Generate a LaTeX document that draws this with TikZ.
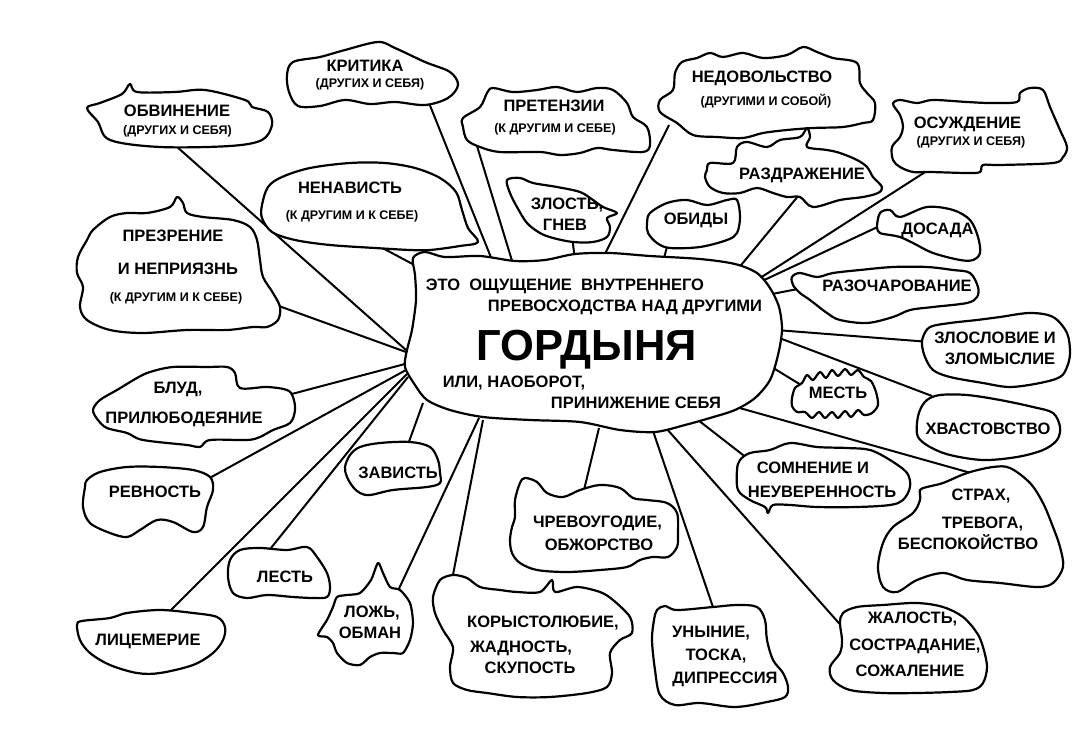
\documentclass[tikz,border=0pt]{standalone}
\usepackage{fontspec}
\setmainfont{Liberation Sans}
\begin{document}
\begin{tikzpicture}[x=1pt,y=-1pt]
\tikzset{
 blob/.style={draw=black, line width=2.2pt, fill=white, line join=round},
 conn/.style={draw=black, line width=2pt},
 lab/.style={font=\fontsize{16.5}{18}\selectfont\bfseries, anchor=base, inner sep=0pt},
 sub/.style={font=\fontsize{12.5}{14}\selectfont\bfseries, anchor=base, inner sep=0pt},
 big/.style={font=\fontsize{43.5}{48}\selectfont\bfseries, anchor=base, inner sep=0pt},
 sm/.style={smooth cycle, tension=0.55}
}
\useasboundingbox[fill=white] (0,0) rectangle (1080,754);

% ---------- connector end points ----------
\coordinate (c-obv) at (406,350);   \coordinate (e-obv) at (176,146);
\coordinate (c-prez) at (406,352);  \coordinate (e-prez) at (265,301);
\coordinate (c-nen) at (420,268);   \coordinate (e-nen) at (375,244);
\coordinate (c-krit) at (492,260);  \coordinate (e-krit) at (427,98);
\coordinate (c-pret) at (513,264);  \coordinate (e-pret) at (477,146);
\coordinate (c-zl) at (575,260);    \coordinate (e-zl) at (572,236);
\coordinate (c-ned) at (603,258);   \coordinate (e-ned) at (669,125);
\coordinate (c-obid) at (663,262);  \coordinate (e-obid) at (668,243);
\coordinate (c-razd) at (737,270);  \coordinate (e-razd) at (799,195);
\coordinate (c-osu) at (757,280);   \coordinate (e-osu) at (933,167);
\coordinate (c-dos) at (760,282);   \coordinate (e-dos) at (884,224);
\coordinate (c-raz) at (772,294);   \coordinate (e-raz) at (803,288);
\coordinate (c-zls) at (776,330);   \coordinate (e-zls) at (930,342);
\coordinate (c-hv) at (774,336);    \coordinate (e-hv) at (932,396);
\coordinate (c-mest) at (770,366);  \coordinate (e-mest) at (806,388);
\coordinate (c-str) at (736,407);   \coordinate (e-str) at (978,475);
\coordinate (c-som) at (698,420);   \coordinate (e-som) at (752,462);
\coordinate (c-zh) at (666,428);    \coordinate (e-zh) at (845,630);
\coordinate (c-un) at (652,428);    \coordinate (e-un) at (715,613);
\coordinate (c-chr) at (599,428);   \coordinate (e-chr) at (584,490);
\coordinate (c-kor) at (483,420);   \coordinate (e-kor) at (452,580);
\coordinate (c-lozh) at (479,418);  \coordinate (e-lozh) at (396,595);
\coordinate (c-zav) at (423,403);   \coordinate (e-zav) at (406,450);
\coordinate (c-lest) at (408,377);  \coordinate (e-lest) at (267,553);
\coordinate (c-lic) at (407,374);   \coordinate (e-lic) at (165,616);
\coordinate (c-rev) at (406,370);   \coordinate (e-rev) at (206,480);
\coordinate (c-blud) at (405,364);  \coordinate (e-blud) at (288,395);

% ---------- connectors ----------
\foreach \n in {obv,prez,nen,krit,pret,zl,ned,obid,razd,osu,dos,raz,zls,hv,mest,str,som,zh,un,chr,kor,lozh,zav,lest,lic,rev,blud}
  \draw[conn] (c-\n) -- (e-\n);

% ---------- blobs ----------
% ОБВИНЕНИЕ
\draw[blob] plot[sm] coordinates {(87,108) (100,103) (122,94) (130,84) (137,92) (175,92) (205,90) (245,100) (252,107) (268,112) (272,125) (262,140) (230,146) (160,147) (110,140) (98,122)};
% КРИТИКА
\draw[blob] plot[sm] coordinates {(287,75) (293,62) (320,57) (345,50) (378,42) (395,48) (425,62) (450,72) (458,85) (448,98) (425,105) (395,102) (370,104) (345,100) (320,106) (298,106) (289,92)};
% ПРЕТЕНЗИИ
\draw[blob] plot[sm] coordinates {(463,118) (480,107) (487,93) (493,88) (513,92) (537,90) (557,87) (577,92) (597,88) (613,90) (627,103) (633,117) (647,127) (650,145) (643,152) (613,150) (597,148) (580,153) (560,155) (540,152) (500,152) (480,147) (467,140) (463,127)};
% НЕДОВОЛЬСТВО
\draw[blob] plot[sm] coordinates {(675,73) (682,62) (697,58) (710,53) (723,57) (743,53) (763,58) (787,55) (803,47) (817,52) (833,58) (857,63) (860,83) (867,93) (875,103) (873,120) (863,123) (843,127) (813,128) (787,130) (763,133) (743,138) (717,137) (693,135) (677,123) (660,112) (660,100) (673,90)};
% РАЗДРАЖЕНИЕ
\draw[blob] plot[sm] coordinates {(707,170) (710,163) (733,163) (737,147) (747,142) (767,147) (780,140) (800,137) (807,128) (810,137) (807,147) (827,150) (840,153) (857,160) (867,167) (873,177) (882,187) (878,193) (863,197) (840,200) (813,207) (800,197) (787,197) (773,193) (757,188) (740,193) (723,193) (710,187) (705,177)};
% ОСУЖДЕНИЕ
\draw[blob] plot[sm] coordinates {(893,104) (900,100) (917,103) (933,100) (967,102) (990,103) (1017,102) (1020,93) (1030,88) (1043,90) (1050,107) (1060,130) (1067,147) (1063,157) (1053,163) (1000,165) (983,165) (980,172) (967,173) (930,172) (913,172) (900,167) (893,160) (892,147) (900,137) (903,127) (900,115)};
% НЕНАВИСТЬ
\draw[blob] plot[sm] coordinates {(262,205) (268,187) (282,177) (310,168) (350,163) (385,163) (415,168) (440,178) (456,192) (462,210) (468,228) (478,242) (460,246) (430,250) (410,250) (375,248) (330,245) (295,240) (272,232) (262,218)};
% ЗЛОСТЬ, ГНЕВ
\draw[blob] plot[sm] coordinates {(507,180) (520,178) (533,183) (557,187) (580,192) (593,200) (603,207) (617,213) (607,218) (610,227) (607,237) (593,242) (573,242) (553,238) (540,233) (527,223) (517,207) (510,193)};
% ОБИДЫ
\draw[blob] plot[sm] coordinates {(647,223) (650,213) (667,203) (687,200) (707,205) (727,200) (737,200) (740,217) (737,233) (727,240) (700,247) (670,248) (657,243) (648,233)};
% ДОСАДА
\draw[blob] plot[sm] coordinates {(877,227) (880,213) (890,210) (900,217) (927,207) (953,210) (970,220) (978,237) (980,253) (973,260) (960,260) (933,253) (913,243) (900,237) (890,235) (880,233)};
% РАЗОЧАРОВАНИЕ
\draw[blob] plot[sm] coordinates {(792,277) (800,273) (817,277) (833,273) (860,270) (893,267) (927,267) (953,270) (970,273) (978,287) (977,297) (967,303) (933,307) (910,310) (893,317) (867,323) (840,320) (827,313) (810,300) (800,293) (793,285)};
% ЗЛОСЛОВИЕ
\draw[blob] plot[sm] coordinates {(923,337) (930,327) (950,323) (977,320) (1000,317) (1030,313) (1053,317) (1067,333) (1070,353) (1067,367) (1060,377) (1040,383) (1010,387) (983,383) (950,377) (933,370) (925,357) (922,345)};
% ПРЕЗРЕНИЕ
\draw[blob] plot[sm] coordinates {(87,240) (93,230) (110,217) (127,213) (147,213) (170,207) (177,197) (183,203) (187,213) (203,217) (233,220) (250,227) (257,240) (260,260) (263,277) (273,293) (280,307) (278,320) (267,327) (253,327) (227,330) (187,330) (143,333) (110,330) (87,320) (80,307) (83,287) (77,273) (78,257)};
% БЛУД
\draw[blob] plot[sm] coordinates {(93,410) (100,400) (117,390) (137,378) (150,372) (173,367) (207,367) (227,367) (235,373) (240,388) (267,387) (287,390) (293,397) (295,410) (290,423) (273,430) (260,437) (247,440) (210,440) (200,447) (187,445) (143,440) (127,433) (107,428) (98,420)};
% РЕВНОСТЬ
\draw[blob] plot[sm] coordinates {(85,487) (87,480) (100,472) (127,467) (160,467) (193,470) (210,477) (213,490) (207,507) (203,527) (193,532) (173,522) (157,520) (140,530) (127,537) (110,533) (90,523) (83,507)};
% ЗАВИСТЬ
\draw[blob] plot[sm] coordinates {(345,467) (350,455) (360,447) (380,443) (410,442) (430,447) (438,460) (440,473) (440,483) (427,487) (393,490) (370,495) (360,493) (353,487) (347,477)};
% ЛЕСТЬ
\draw[blob] plot[sm] coordinates {(230,560) (240,550) (260,548) (287,550) (307,547) (317,557) (327,573) (330,587) (327,597) (313,598) (293,597) (267,595) (247,598) (233,593) (228,577)};
% ЛОЖЬ, ОБМАН
\draw[blob] plot[smooth cycle, tension=0.45] coordinates {(378,563) (371,580) (360,593) (347,595) (337,597) (333,607) (327,620) (318,635) (327,637) (333,643) (337,653) (347,663) (360,665) (370,657) (380,653) (393,653) (403,653) (410,640) (413,623) (410,603) (400,590) (390,587) (383,573)};
% ЛИЦЕМЕРИЕ
\draw[blob] plot[sm] coordinates {(77,625) (82,621) (110,618) (127,613) (160,610) (193,613) (217,617) (225,627) (223,640) (213,653) (193,665) (160,673) (137,673) (110,665) (90,653) (80,640)};
% ЧРЕВОУГОДИЕ
\draw[blob] plot[sm] coordinates {(520,483) (525,478) (537,482) (547,493) (563,497) (580,490) (600,485) (620,488) (633,498) (647,500) (667,503) (677,513) (678,533) (677,547) (668,557) (653,557) (640,560) (627,567) (600,570) (567,572) (537,570) (520,563) (512,553) (510,540) (512,527) (515,517) (515,500)};
% КОРЫСТОЛЮБИЕ
\draw[blob] plot[smooth cycle, tension=0.5] coordinates {(440,580) (453,575) (467,578) (480,587) (500,590) (517,592) (540,592) (552,580) (555,592) (577,587) (600,592) (613,600) (630,617) (632,633) (620,640) (610,653) (612,673) (607,687) (587,693) (550,697) (517,697) (487,693) (467,690) (453,683) (450,667) (453,647) (443,630) (435,613) (433,597)};
% УНЫНИЕ
\draw[blob] plot[sm] coordinates {(657,610) (665,606) (677,610) (713,607) (737,605) (757,607) (765,620) (767,640) (773,660) (783,673) (788,687) (785,697) (767,702) (735,707) (700,703) (675,705) (660,695) (655,670) (652,640) (654,620)};
% ЖАЛОСТЬ
\draw[blob] plot[sm] coordinates {(840,623) (843,613) (857,607) (883,605) (917,603) (943,607) (963,617) (977,633) (983,647) (987,667) (983,683) (973,690) (950,692) (917,693) (883,693) (850,690) (833,680) (830,667) (840,653) (842,640)};
% СОМНЕНИЕ
\draw[blob] plot[sm] coordinates {(737,470) (740,460) (750,453) (770,450) (790,443) (817,447) (847,448) (870,450) (890,460) (907,473) (910,487) (903,500) (890,505) (857,507) (817,507) (790,505) (773,505) (768,513) (765,507) (750,500) (738,490)};
% МЕСТЬ
\draw[blob] plot[smooth cycle, tension=0.5] coordinates {(792,398) (795,388) (802,383) (807,375) (813,380) (820,372) (826,378) (832,370) (838,376) (845,369) (851,375) (858,370) (864,377) (871,381) (876,392) (878,405) (872,413) (864,415) (858,410) (851,417) (845,411) (838,418) (832,412) (825,418) (819,412) (812,418) (805,412) (797,412) (792,406)};
% ХВАСТОВСТВО
\draw[blob] plot[sm] coordinates {(917,423) (920,410) (927,400) (940,395) (967,395) (1000,400) (1033,407) (1053,413) (1060,427) (1057,440) (1043,450) (1017,457) (983,460) (950,455) (930,447) (918,437)};
% СТРАХ
\draw[blob] plot[sm] coordinates {(920,490) (927,487) (943,483) (967,473) (993,467) (1010,468) (1030,483) (1043,503) (1053,527) (1060,547) (1063,567) (1053,583) (1037,587) (1000,583) (967,580) (943,573) (917,580) (897,592) (883,587) (878,567) (883,543) (893,527) (913,513) (920,500)};
% ГОРДЫНЯ (centre)
\draw[blob] plot[smooth cycle, tension=0.5] coordinates {(413,258) (425,252) (445,257) (480,256) (515,261) (545,260) (575,254) (610,253) (650,256) (700,259) (735,264) (757,273) (770,288) (779,307) (782,330) (778,355) (770,380) (755,398) (735,410) (710,418) (685,425) (655,432) (620,430) (580,422) (530,420) (483,417) (450,410) (427,400) (415,385) (405,367) (407,350) (412,330) (416,300) (415,275)};

% ---------- texts ----------
\node[lab] (t-obv) at (177,117) {ОБВИНЕНИЕ};
\node[sub] (s-obv) at (177.5,135) {(ДРУГИХ И СЕБЯ)};
\node[lab] (t-krit) at (365,72) {КРИТИКА};
\node[sub] (s-krit) at (370,88) {(ДРУГИХ И СЕБЯ)};
\node[lab] (t-pret) at (554,112) {ПРЕТЕНЗИИ};
\node[sub] (s-pret) at (555,133) {(К ДРУГИМ И СЕБЕ)};
\node[lab] (t-ned) at (762,83) {НЕДОВОЛЬСТВО};
\node[sub] (s-ned) at (766,105.5) {(ДРУГИМИ И СОБОЙ)};
\node[lab] (t-osu) at (967.5,129) {ОСУЖДЕНИЕ};
\node[sub] (s-osu) at (971,146) {(ДРУГИХ И СЕБЯ)};
\node[lab] (t-nen) at (350,194) {НЕНАВИСТЬ};
\node[sub] (s-nen) at (352,220) {(К ДРУГИМ И К СЕБЕ)};
\node[lab] (t-zl1) at (567,210) {ЗЛОСТЬ,};
\node[lab] (t-zl2) at (565,231) {ГНЕВ};
\node[lab] (t-razd) at (802,180) {РАЗДРАЖЕНИЕ};
\node[lab] (t-obid) at (696,225) {ОБИДЫ};
\node[lab] (t-dos) at (937.5,235) {ДОСАДА};
\node[lab] (t-raz) at (897,292) {РАЗОЧАРОВАНИЕ};
\node[lab] (t-zls1) at (995,344) {ЗЛОСЛОВИЕ И};
\node[lab] (t-zls2) at (1000,365) {ЗЛОМЫСЛИЕ};
\node[lab] (t-prez1) at (173,242) {ПРЕЗРЕНИЕ};
\node[lab] (t-prez2) at (178,275) {И НЕПРИЯЗНЬ};
\node[sub] (s-prez) at (176,302) {(К ДРУГИМ И К СЕБЕ)};
\node[lab] (t-blud1) at (178,393) {БЛУД,};
\node[lab] (t-blud2) at (184,423) {ПРИЛЮБОДЕЯНИЕ};
\node[lab] (t-rev) at (155,497) {РЕВНОСТЬ};
\node[lab] (t-zav) at (398,478) {ЗАВИСТЬ};
\node[lab] (t-lest) at (285,582) {ЛЕСТЬ};
\node[lab] (t-lozh1) at (372,617) {ЛОЖЬ,};
\node[lab] (t-lozh2) at (370,638) {ОБМАН};
\node[lab] (t-lic) at (148,645) {ЛИЦЕМЕРИЕ};
\node[lab] (t-chr1) at (597.5,527) {ЧРЕВОУГОДИЕ,};
\node[lab] (t-chr2) at (599,550) {ОБЖОРСТВО};
\node[lab] (t-kor1) at (543,627) {КОРЫСТОЛЮБИЕ,};
\node[lab] (t-kor2) at (521,652) {ЖАДНОСТЬ,};
\node[lab] (t-kor3) at (530,673) {СКУПОСТЬ};
\node[lab] (t-un1) at (711,637) {УНЫНИЕ,};
\node[lab] (t-un2) at (716,660) {ТОСКА,};
\node[lab] (t-un3) at (725,683) {ДИПРЕССИЯ};
\node[lab] (t-zh1) at (912.5,623) {ЖАЛОСТЬ,};
\node[lab] (t-zh2) at (915,650) {СОСТРАДАНИЕ,};
\node[lab] (t-zh3) at (910,676) {СОЖАЛЕНИЕ};
\node[lab] (t-som1) at (813,473) {СОМНЕНИЕ И};
\node[lab] (t-som2) at (822,497) {НЕУВЕРЕННОСТЬ};
\node[lab] (t-mest) at (838,399) {МЕСТЬ};
\node[lab] (t-hv) at (988,434) {ХВАСТОВСТВО};
\node[lab] (t-str1) at (981,500) {СТРАХ,};
\node[lab] (t-str2) at (982.5,528) {ТРЕВОГА,};
\node[lab] (t-str3) at (968,549) {БЕСПОКОЙСТВО};
% centre
\node[lab] (g1) at (565,291) {ЭТО\ \ ОЩУЩЕНИЕ\ \ ВНУТРЕННЕГО};
\node[lab] (g2) at (625,312) {ПРЕВОСХОДСТВА НАД ДРУГИМИ};
\node[big] (g3) at (587,360) {ГОРДЫНЯ};
\node[lab] (g4) at (514,388) {ИЛИ, НАОБОРОТ,};
\node[lab] (g5) at (636,408) {ПРИНИЖЕНИЕ СЕБЯ};
\end{tikzpicture}
\end{document}
